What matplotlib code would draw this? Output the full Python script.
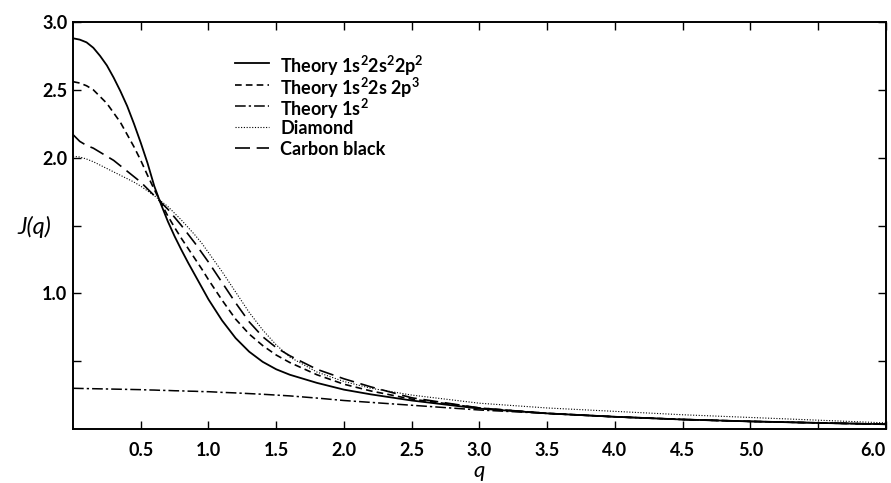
import matplotlib
matplotlib.use("Agg")
import matplotlib.pyplot as plt
from matplotlib.lines import Line2D

q = [0.0, 0.05, 0.1, 0.15, 0.2, 0.25, 0.3, 0.35, 0.4, 0.45, 0.5, 0.55, 0.6, 0.65, 0.7,
     0.75, 0.8, 0.85, 0.9, 0.95, 1.0, 1.1, 1.2, 1.3, 1.4, 1.5, 1.6, 1.8, 2.0, 2.2,
     2.5, 3.0, 3.5, 4.0, 4.5, 5.0, 5.5, 6.0]

theory_2s2_2p2 = [2.88, 2.87, 2.85, 2.81, 2.75, 2.68, 2.59, 2.49, 2.38, 2.25, 2.11, 1.96, 1.79, 1.655, 1.53,
                  1.42, 1.32, 1.225, 1.135, 1.045, 0.955, 0.80, 0.67, 0.57, 0.495, 0.44, 0.40, 0.34, 0.29, 0.255,
                  0.21, 0.15, 0.115, 0.09, 0.07, 0.056, 0.045, 0.035]
theory_2s_2p3 = [2.56, 2.55, 2.53, 2.50, 2.45, 2.40, 2.33, 2.26, 2.17, 2.08, 1.98, 1.87, 1.765, 1.665, 1.57,
                 1.485, 1.405, 1.33, 1.255, 1.18, 1.10, 0.95, 0.81, 0.70, 0.615, 0.545, 0.49, 0.40, 0.33, 0.28,
                 0.22, 0.155, 0.115, 0.09, 0.07, 0.056, 0.045, 0.035]
theory_1s2 = [0.300, 0.299, 0.298, 0.297, 0.296, 0.295, 0.294, 0.293, 0.292, 0.291, 0.290, 0.288, 0.287, 0.285, 0.284,
              0.282, 0.281, 0.279, 0.278, 0.276, 0.275, 0.270, 0.266, 0.261, 0.256, 0.250, 0.244, 0.228, 0.21, 0.196,
              0.175, 0.14, 0.115, 0.09, 0.07, 0.056, 0.045, 0.035]
diamond = [2.01, 2.005, 1.99, 1.97, 1.945, 1.92, 1.895, 1.87, 1.845, 1.82, 1.79, 1.755, 1.72, 1.68, 1.64,
           1.59, 1.54, 1.485, 1.43, 1.37, 1.30, 1.16, 1.01, 0.86, 0.73, 0.62, 0.53, 0.42, 0.35, 0.30,
           0.25, 0.19, 0.155, 0.13, 0.105, 0.085, 0.065, 0.045]
carbon_black = [2.17, 2.12, 2.09, 2.07, 2.04, 2.01, 1.98, 1.94, 1.90, 1.86, 1.82, 1.77, 1.72, 1.67, 1.62,
                1.56, 1.50, 1.435, 1.37, 1.30, 1.23, 1.08, 0.93, 0.79, 0.68, 0.60, 0.54, 0.44, 0.37, 0.31,
                0.23, 0.155, 0.115, 0.09, 0.07, 0.056, 0.045, 0.035]

xticks = [0.5, 1.0, 1.5, 2.0, 2.5, 3.0, 3.5, 4.0, 4.5, 5.0, 5.5, 6.0]
xticklabels = ["0.5", "1.0", "1.5", "2.0", "2.5", "3.0", "3.5", "4.0", "4.5", "5.0", "", "6.0"]
yticks = [0.5, 1.0, 1.5, 2.0, 2.5, 3.0]
yticklabels = ["", "1.0", "", "2.0", "2.5", "3.0"]

labels = [r"Theory 1s$^{2}$2s$^{2}$2p$^{2}$", r"Theory 1s$^{2}$2s 2p$^{3}$", r"Theory 1s$^{2}$",
          "Diamond", "Carbon black"]

plt.rcParams['font.family'] = ['Lato', 'DejaVu Sans']
plt.rcParams['mathtext.fontset'] = 'custom'
plt.rcParams['mathtext.rm'] = 'Lato:bold'
plt.rcParams['mathtext.it'] = 'Lato:italic:bold'
plt.rcParams['mathtext.bf'] = 'Lato:bold'

fig = plt.figure(figsize=(8.91, 4.83), dpi=100)
ax = fig.add_axes([73 / 891, 1 - 429 / 483, (886 - 73) / 891, (429 - 22) / 483])

styles = [dict(lw=1.3, ls='-'),
          dict(lw=1.2, ls=(0, (4, 2.5))),
          dict(lw=1.1, ls=(0, (7, 2, 1.5, 2))),
          dict(lw=0.8, ls=(0, (1, 1.5))),
          dict(lw=1.2, ls=(0, (9, 4)))]
series = [theory_2s2_2p2, theory_2s_2p3, theory_1s2, diamond, carbon_black]

for ys, st, lab in zip(series, styles, labels):
    ax.plot(q, ys, color='black', label=lab, **st)

ax.set_xlim(0, 6.0)
ax.set_ylim(0, 3.0)
ax.set_xticks(xticks)
ax.set_xticklabels(xticklabels)
ax.set_yticks(yticks)
ax.set_yticklabels(yticklabels)
ax.tick_params(direction='in', length=6, width=1.0, top=True, right=True,
               labelsize=13)
ax.tick_params(axis='x', pad=9)
ax.tick_params(axis='y', pad=4)
for lab in ax.get_xticklabels() + ax.get_yticklabels():
    lab.set_fontweight('bold')
ax.get_xticklabels()[-1].set_horizontalalignment('right')
for s in ax.spines.values():
    s.set_linewidth(1.4)

ax.set_xlabel("q", fontsize=16, fontstyle='italic', labelpad=2)
fig.text(34 / 891, 1 - 227 / 483, "J(q)", fontsize=17, fontstyle='italic',
         ha='center', va='center')

# legend: evenly spaced rows, drawn in axes-fraction coordinates
row_px = [63, 85, 106, 127, 148]
x0, x1, xt = 235, 269, 280
for py, st, lab in zip(row_px, styles, labels):
    yf = (429 - py) / 407
    ax.add_line(Line2D([(x0 - 73) / 813, (x1 - 73) / 813], [yf, yf],
                       transform=ax.transAxes, color='black', **st))
    ax.text((xt - 73) / 813, yf, lab, transform=ax.transAxes, fontsize=13,
            fontweight='bold', ha='left', va='center_baseline')

fig.savefig("out.png", dpi=100)
